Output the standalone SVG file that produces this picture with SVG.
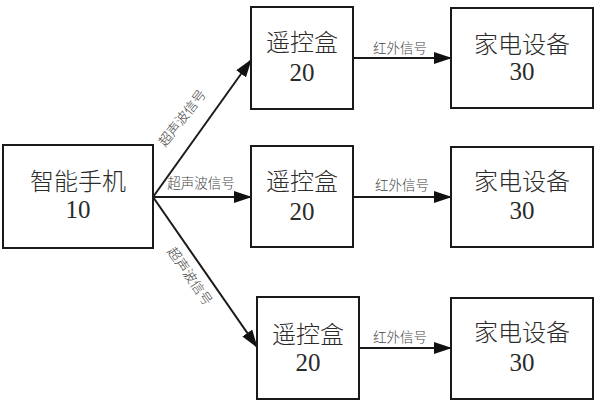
<svg xmlns="http://www.w3.org/2000/svg" width="600" height="403" viewBox="0 0 600 403">
<style>
.box{fill:#fff;stroke:#1a1a1a;stroke-width:2}
.cj{font-family:"Noto Sans CJK SC","Noto Sans",sans-serif;font-size:24px;font-weight:300;fill:#2a2a2a;text-anchor:middle}
.num{font-family:"Liberation Serif",serif;font-size:25px;fill:#2a2a2a;text-anchor:middle}
.lb{font-family:"Noto Sans CJK SC","Noto Sans",sans-serif;font-size:13.5px;font-weight:300;fill:#444;text-anchor:middle}
.ln{stroke:#1a1a1a;stroke-width:2;fill:none;marker-end:url(#ah)}
</style>
<defs>
<marker id="ah" markerWidth="18" markerHeight="12" refX="17" refY="6" orient="auto" markerUnits="userSpaceOnUse">
<path d="M0,0 L18,6 L0,12 Z" fill="#111"/>
</marker>
</defs>
<rect width="600" height="403" fill="#fff"/>
<g id="connectors">
<line class="ln" x1="153" y1="197" x2="251" y2="60"/>
<line class="ln" x1="153" y1="197" x2="251" y2="197"/>
<line class="ln" x1="153" y1="197" x2="257" y2="347"/>
<line class="ln" x1="353" y1="58" x2="451" y2="58"/>
<line class="ln" x1="353" y1="197" x2="451" y2="197"/>
<line class="ln" x1="359" y1="348" x2="451" y2="348"/>
<text class="lb" transform="translate(186,121) rotate(-52)">超声波信号</text>
<text class="lb" x="201" y="188">超声波信号</text>
<text class="lb" transform="translate(186,279) rotate(55)">超声波信号</text>
<text class="lb" x="400" y="53">红外信号</text>
<text class="lb" x="402" y="190">红外信号</text>
<text class="lb" x="400" y="342">红外信号</text>
</g>
<g id="phone">
<rect class="box" x="3" y="145" width="150" height="103"/>
<text class="cj" x="78" y="190">智能手机</text>
<text class="num" x="78" y="218">10</text>
</g>
<g id="remote1">
<rect class="box" x="251" y="7" width="102" height="102"/>
<text class="cj" x="302" y="51">遥控盒</text>
<text class="num" x="302" y="81">20</text>
</g>
<g id="remote2">
<rect class="box" x="251" y="146" width="102" height="101"/>
<text class="cj" x="302" y="190">遥控盒</text>
<text class="num" x="302" y="220">20</text>
</g>
<g id="remote3">
<rect class="box" x="257" y="297" width="102" height="102"/>
<text class="cj" x="308" y="343">遥控盒</text>
<text class="num" x="308" y="371">20</text>
</g>
<g id="device1">
<rect class="box" x="451" y="8" width="142" height="100"/>
<text class="cj" x="522" y="53">家电设备</text>
<text class="num" x="522" y="80">30</text>
</g>
<g id="device2">
<rect class="box" x="451" y="147" width="142" height="100"/>
<text class="cj" x="522" y="190">家电设备</text>
<text class="num" x="522" y="219">30</text>
</g>
<g id="device3">
<rect class="box" x="451" y="298" width="142" height="101"/>
<text class="cj" x="522" y="341">家电设备</text>
<text class="num" x="522" y="371">30</text>
</g>
</svg>
